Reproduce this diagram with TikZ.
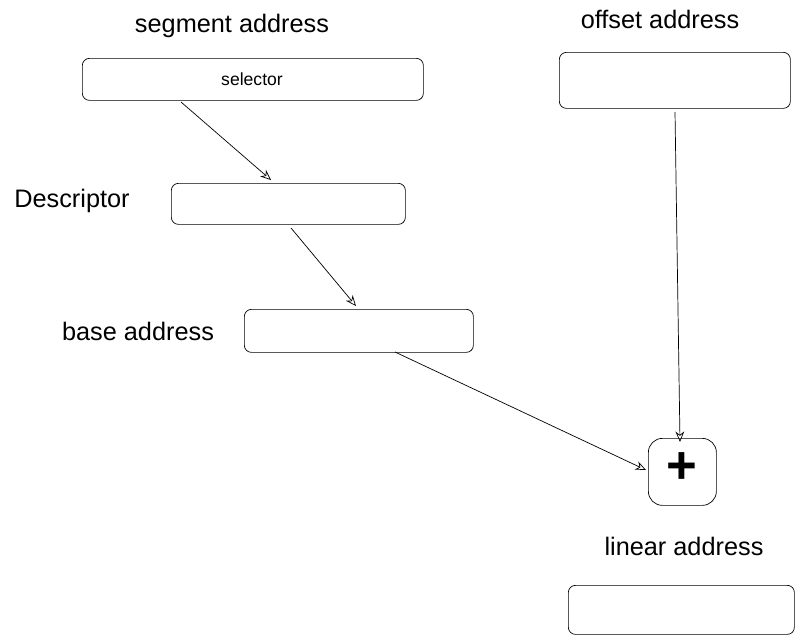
\documentclass[tikz,border=0pt]{standalone}
\usepackage{fontspec}
\setmainfont{Liberation Sans}
\usetikzlibrary{arrows.meta}
\begin{document}
\begin{tikzpicture}[x=0.02cm,y=-0.02cm,
  field/.style={draw,rounded corners=4pt,thin,anchor=north west,inner sep=0pt},
  caption/.style={font=\Large},
  link/.style={-{Stealth[open,length=6pt,width=5pt]},thin}]
  \useasboundingbox (0,0) rectangle (800,639);
  % captions
  \node[caption] (segcap) at (232,26) {segment address};
  \node[caption] (offcap) at (660,19) {offset address};
  \node[caption] (desccap) at (72,201) {Descriptor};
  \node[caption] (basecap) at (138,331) {base address};
  \node[caption] (lincap) at (684,546) {linear address};
  % boxes
  \node[field,minimum width=341*0.02cm,minimum height=42*0.02cm] (sel) at (82,58) {};
  \node at (252,79) {selector};
  \node[field,minimum width=231*0.02cm,minimum height=56*0.02cm] (off) at (559,52) {};
  \node[field,minimum width=234*0.02cm,minimum height=41*0.02cm] (desc) at (171,183) {};
  \node[field,minimum width=229*0.02cm,minimum height=43*0.02cm] (base) at (244,309) {};
  \node[field,minimum width=68*0.02cm,minimum height=67*0.02cm,rounded corners=8pt] (plus) at (648,438) {};
  \node at (682,468) {\fontsize{30}{30}\selectfont\bfseries +};
  \node[field,minimum width=226*0.02cm,minimum height=49*0.02cm] (lin) at (568,585) {};
  % arrow ends
  \coordinate (a1) at (181,102);
  \coordinate (a2) at (271,180);
  \coordinate (b1) at (291,228);
  \coordinate (b2) at (356,306);
  \coordinate (c1) at (395,352);
  \coordinate (c2) at (646,470);
  \coordinate (d1) at (675,112);
  \coordinate (d2) at (680,442);
  \draw[link] (a1) -- (a2);
  \draw[link] (b1) -- (b2);
  \draw[link] (c1) -- (c2);
  \draw[link] (d1) -- (d2);
\end{tikzpicture}
\end{document}
